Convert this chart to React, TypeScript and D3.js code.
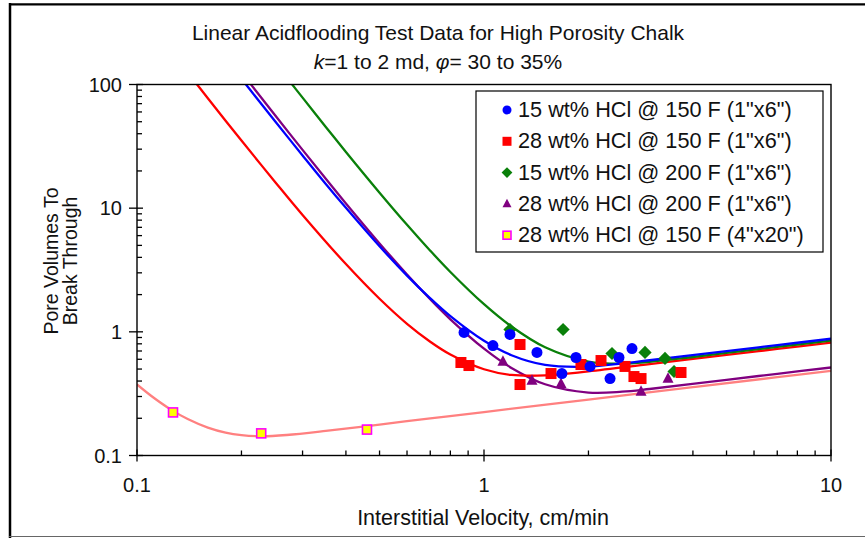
import React from "react";
import * as d3 from "d3";

// ---------- data ----------
const xTickLabels = ["0.1", "1", "10"];
const yTickLabels = ["0.1", "1", "10", "100"];

const seriesNames = [
  '15 wt% HCl @ 150 F (1"x6")',
  '28 wt% HCl @ 150 F (1"x6")',
  '15 wt% HCl @ 200 F (1"x6")',
  '28 wt% HCl @ 200 F (1"x6")',
  '28 wt% HCl @ 150 F (4"x20")',
];

// measured points
const blueX = [0.876, 1.061, 1.188, 1.421, 1.841, 1.677, 2.021, 2.308, 2.449, 2.67];
const blueY = [0.988, 0.775, 0.952, 0.681, 0.62, 0.46, 0.525, 0.419, 0.62, 0.733];
const redX = [0.858, 0.905, 1.27, 1.27, 1.56, 1.903, 2.174, 2.549, 2.705, 2.835, 3.696];
const redY = [0.565, 0.534, 0.79, 0.375, 0.46, 0.544, 0.586, 0.525, 0.435, 0.419, 0.469];
const greenX = [1.188, 1.69, 2.338, 2.911, 3.324, 3.529];
const greenY = [1.044, 1.044, 0.668, 0.681, 0.609, 0.478];
const purpleX = [1.134, 1.375, 1.667, 2.835, 3.391];
const purpleY = [0.575, 0.404, 0.38, 0.329, 0.419];
const yellowX = [0.127, 0.228, 0.46];
const yellowY = [0.223, 0.151, 0.162];

// fitted curves
const curveX = [0.1, 0.11, 0.125, 0.14, 0.16, 0.18, 0.2, 0.22, 0.23, 0.25, 0.27, 0.3, 0.35, 0.4, 0.5, 0.6, 0.7, 0.8, 1.0, 1.2, 1.5, 2, 2.5, 3, 4, 5, 7, 10];
const redCurveY = [null, null, null, 124.9, 77.5, 51.0, 35.2, null, null, 16.3, null, 8.81, null, 3.53, 1.85, 1.16, 0.831, 0.655, 0.498, 0.448, 0.444, 0.479, null, 0.548, null, 0.65, 0.727, 0.819];
const blueCurveY = [null, null, null, null, null, null, 111.2, 79.2, null, 50.4, null, 26.7, 15.7, 10.06, 4.92, 2.85, 1.866, 1.339, 0.846, 0.647, 0.54, 0.523, 0.555, 0.589, null, 0.698, 0.781, 0.879];
const greenCurveY = [null, null, null, null, null, null, null, null, null, null, 113.9, 78.3, 45.4, 28.5, 13.35, 7.34, 4.53, 3.05, 1.673, 1.104, 0.75, 0.575, 0.553, 0.572, 0.626, 0.675, 0.755, 0.85];
const purpleCurveY = [null, null, null, null, null, null, 125.5, 89.1, null, 56.4, null, 29.6, 17.3, 10.92, 5.19, 2.91, 1.834, 1.263, 0.731, 0.511, 0.377, 0.323, 0.328, 0.345, null, 0.409, 0.458, 0.515];
const pinkCurveY = [0.3755, 0.303, 0.236, 0.197, 0.168, 0.153, 0.146, null, 0.143, null, 0.1465, null, 0.158, null, 0.178, null, 0.1995, null, 0.2247, null, null, 0.283, null, null, 0.357, null, 0.43, 0.484];

// ---------- layout ----------
const W = 865;
const H = 538;
const PL = 137, PR = 831, PT = 84.5, PB = 455.5;
const FONT = "'Liberation Sans', Arial, Helvetica, sans-serif";

const x = d3.scaleLog().domain([0.1, 10]).range([PL, PR]);
const y = d3.scaleLog().domain([0.1, 100]).range([PB, PT]);

const COLORS = {
  blue: "#0000ff",
  red: "#ff0000",
  green: "#0a800a",
  purple: "#800080",
  pink: "#ff8080",
  yellow: "#ffff00",
  magenta: "#ff00ff",
};

function pairs(xs: number[], ys: (number | null)[]) {
  const out: [number, number][] = [];
  xs.forEach((v, i) => {
    const w = ys[i];
    if (w != null) out.push([v, w]);
  });
  return out;
}

const lineGen = d3
  .line<[number, number]>()
  .x((d) => x(d[0]))
  .y((d) => y(d[1]))
  .curve(d3.curveCatmullRom.alpha(0.5));

function Marker({ kind, cx, cy, s }: { kind: string; cx: number; cy: number; s: number }) {
  if (kind === "circle") return <circle cx={cx} cy={cy} r={s / 2} fill={COLORS.blue} />;
  if (kind === "square")
    return <rect x={cx - s / 2} y={cy - s / 2} width={s} height={s} fill={COLORS.red} />;
  if (kind === "diamond") {
    const h = s * 0.6;
    return (
      <path d={`M${cx},${cy - h}L${cx + h},${cy}L${cx},${cy + h}L${cx - h},${cy}Z`} fill={COLORS.green} />
    );
  }
  if (kind === "triangle") {
    const h = s * 0.95;
    return (
      <path
        d={`M${cx},${cy - h * 0.6}L${cx + s / 2},${cy + h * 0.4}L${cx - s / 2},${cy + h * 0.4}Z`}
        fill={COLORS.purple}
      />
    );
  }
  return (
    <rect
      x={cx - s / 2}
      y={cy - s / 2}
      width={s}
      height={s}
      fill={COLORS.yellow}
      stroke={COLORS.magenta}
      strokeWidth={1.6}
    />
  );
}

export default function App() {
  const xTicks = x.ticks();
  const yTicks = y.ticks();
  const isMajor = (v: number) => Math.abs(Math.log10(v) - Math.round(Math.log10(v))) < 1e-6;
  const xMajor = xTicks.filter(isMajor);
  const yMajor = yTicks.filter(isMajor);

  const curves = [
    { d: pairs(curveX, pinkCurveY), c: COLORS.pink },
    { d: pairs(curveX, purpleCurveY), c: COLORS.purple },
    { d: pairs(curveX, redCurveY), c: COLORS.red },
    { d: pairs(curveX, greenCurveY), c: COLORS.green },
    { d: pairs(curveX, blueCurveY), c: COLORS.blue },
  ];

  const pointSets = [
    { xs: yellowX, ys: yellowY, k: "yellow", s: 9 },
    { xs: purpleX, ys: purpleY, k: "triangle", s: 11 },
    { xs: greenX, ys: greenY, k: "diamond", s: 11 },
    { xs: redX, ys: redY, k: "square", s: 11 },
    { xs: blueX, ys: blueY, k: "circle", s: 11 },
  ];

  const legendKinds = ["circle", "square", "diamond", "triangle", "yellow"];

  return (
    <svg
      width={W}
      height={H}
      style={{ position: "absolute", left: 0, top: 0, background: "#fff" }}
      fontFamily={FONT}
    >
      <defs>
        <clipPath id="plotClip">
          <rect x={PL} y={PT} width={PR - PL} height={PB - PT} />
        </clipPath>
      </defs>
      {/* outer frame */}
      <line x1={10} y1={3} x2={10} y2={538} stroke="#000" strokeWidth={2.5} />
      <line x1={9} y1={4.3} x2={865} y2={4.3} stroke="#000" strokeWidth={2.2} />
      <line x1={9} y1={536.5} x2={865} y2={536.5} stroke="#666" strokeWidth={1.2} />

      {/* title */}
      <text x={438} y={40} textAnchor="middle" fontSize={21} fill="#111">
        Linear Acidflooding Test Data for High Porosity Chalk
      </text>
      <text x={438} y={69} textAnchor="middle" fontSize={21} fill="#111">
        <tspan fontStyle="italic">k</tspan>
        <tspan>=1 to 2 md, </tspan>
        <tspan fontStyle="italic">φ</tspan>
        <tspan>= 30 to 35%</tspan>
      </text>

      {/* curves */}
      <g clipPath="url(#plotClip)">
        {curves.map((c, i) => (
          <path key={i} d={lineGen(c.d) || ""} fill="none" stroke={c.c} strokeWidth={2.3} />
        ))}
      </g>

      {/* points */}
      {pointSets.map((ps, i) => (
        <g key={i}>
          {ps.xs.map((v, j) => (
            <Marker key={j} kind={ps.k} cx={x(v)} cy={y(ps.ys[j])} s={ps.s} />
          ))}
        </g>
      ))}

      {/* plot box */}
      <rect x={PL} y={PT} width={PR - PL} height={PB - PT} fill="none" stroke="#000" strokeWidth={1.4} />

      {/* x ticks */}
      {xTicks.map((t, i) =>
        isMajor(t) ? (
          <line key={i} x1={x(t)} x2={x(t)} y1={PB - 6} y2={PB + 6} stroke="#000" strokeWidth={1.3} />
        ) : (
          <line key={i} x1={x(t)} x2={x(t)} y1={PB - 5} y2={PB} stroke="#000" strokeWidth={1.3} />
        )
      )}
      {xMajor.map((t, i) => (
        <text key={i} x={x(t)} y={492} textAnchor="middle" fontSize={20} fill="#111">
          {xTickLabels[i]}
        </text>
      ))}

      {/* y ticks */}
      {yTicks.map((t, i) =>
        isMajor(t) ? (
          <line key={i} x1={PL - 8} x2={PL + 6} y1={y(t)} y2={y(t)} stroke="#000" strokeWidth={1.3} />
        ) : (
          <line key={i} x1={PL} x2={PL + 5} y1={y(t)} y2={y(t)} stroke="#000" strokeWidth={1.3} />
        )
      )}
      {yMajor.map((t, i) => (
        <text key={i} x={122} y={y(t) + 7} textAnchor="end" fontSize={20} fill="#111">
          {yTickLabels[i]}
        </text>
      ))}

      {/* axis titles */}
      <text x={483} y={525} textAnchor="middle" fontSize={21.5} fill="#111">
        Interstitial Velocity, cm/min
      </text>
      <text transform="translate(58,261) rotate(-90)" textAnchor="middle" fontSize={19.5} fill="#111">
        Pore Volumes To
      </text>
      <text transform="translate(77,261) rotate(-90)" textAnchor="middle" fontSize={19.5} fill="#111">
        Break Through
      </text>

      {/* legend */}
      <rect x={476} y={91} width={347} height={161} fill="#fff" stroke="#000" strokeWidth={1.2} />
      {seriesNames.map((name, i) => {
        const by = 117 + i * 31.3;
        return (
          <g key={i}>
            <Marker kind={legendKinds[i]} cx={507} cy={by - 7} s={legendKinds[i] === "yellow" ? 8 : 9} />
            <text x={518} y={by} fontSize={21.7} fill="#111">
              {name}
            </text>
          </g>
        );
      })}
    </svg>
  );
}
